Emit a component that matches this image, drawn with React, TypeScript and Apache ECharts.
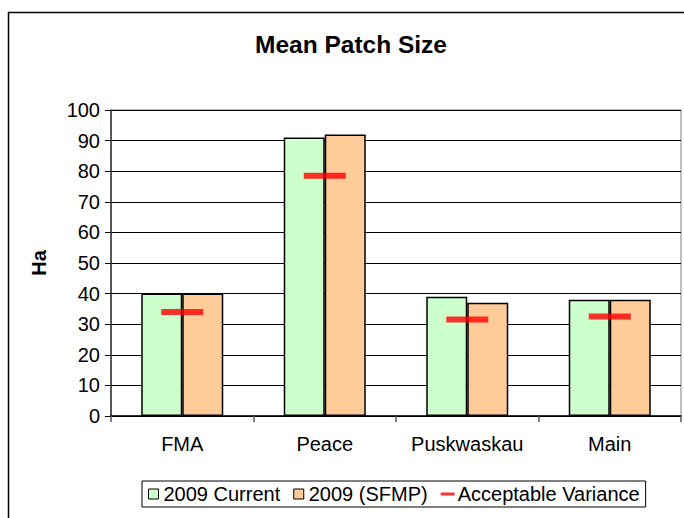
import React, { useEffect, useRef } from "react";
import * as echarts from "echarts";

const categories = ["FMA", "Peace", "Puskwaskau", "Main"];
const current2009 = [40, 91, 39, 38];
const sfmp2009 = [40, 92, 37, 38];
const acceptableVariance = [34, 78.5, 31.5, 32.5];
const seriesNames = ["2009 Current", "2009 (SFMP)", "Acceptable Variance"];

const FONT = "'Liberation Sans', Arial, Helvetica, sans-serif";

export default function App() {
  const ref = useRef<HTMLDivElement>(null);
  useEffect(() => {
    if (!ref.current) return;
    const chart = echarts.init(ref.current, undefined, { renderer: "svg" });
    chart.setOption({
      animation: false,
      backgroundColor: "#ffffff",
      textStyle: { fontFamily: FONT },
      title: {
        text: "Mean Patch Size",
        left: 255,
        top: 32,
        padding: 0,
        textStyle: { fontSize: 24.5, fontWeight: "bold", color: "#000", fontFamily: FONT },
      },
      graphic: [
        {
          type: "rect",
          shape: { x: 8.5, y: 12.5, width: 720, height: 600 },
          style: { fill: "none", stroke: "#000", lineWidth: 1.5 },
          silent: true,
          z: 0,
        },
      ],
      legend: {
        left: 142,
        top: 481,
        padding: [3, 6, 3, 6],
        itemGap: 13,
        itemWidth: 14,
        itemHeight: 10,
        itemStyle: { borderWidth: 1, borderColor: "#000" },
        borderColor: "#000",
        borderWidth: 1,
        textStyle: { fontSize: 20, color: "#000", fontFamily: FONT, padding: [0, 0, 0, -2] },
        data: [
          { name: seriesNames[0], icon: "path://M0,0H10V10H0Z" },
          { name: seriesNames[1], icon: "path://M0,0H10V10H0Z" },
          { name: seriesNames[2], icon: "path://M0,0H14V3H0Z", itemStyle: { borderWidth: 0 } },
        ],
      },
      grid: {
        left: 111,
        right: 3,
        top: 110,
        bottom: 102,
        show: true,
        borderColor: "#808080",
        borderWidth: 1,
        containLabel: false,
        outerBoundsMode: "none",
      },
      xAxis: {
        type: "category",
        data: categories,
        axisLine: { show: true, lineStyle: { color: "#000", width: 1.5 } },
        axisTick: { show: true, alignWithLabel: false, length: 6, lineStyle: { color: "#555", width: 1.5 } },
        axisLabel: { interval: 0, fontSize: 20, color: "#000", margin: 18, fontFamily: FONT },
        splitLine: { show: false },
      },
      yAxis: {
        type: "value",
        min: 0,
        max: 100,
        interval: 10,
        name: "Ha",
        nameLocation: "middle",
        nameGap: 62,
        nameTextStyle: { fontSize: 20, fontWeight: "bold", color: "#000", fontFamily: FONT },
        axisLine: { show: true, lineStyle: { color: "#333", width: 1.5 } },
        axisTick: { show: true, inside: false, length: 6, lineStyle: { color: "#000" } },
        axisLabel: { fontSize: 20, color: "#000", margin: 11, fontFamily: FONT },
        splitLine: { show: true, lineStyle: { color: "#000", width: 1 } },
      },
      series: [
        {
          name: seriesNames[0],
          type: "bar",
          data: current2009,
          barWidth: 41,
          barGap: "0%",
          itemStyle: { color: "#CCFFCC", borderColor: "#000", borderWidth: 1.5 },
        },
        {
          name: seriesNames[1],
          type: "bar",
          data: sfmp2009,
          barWidth: 41,
          barGap: "0%",
          itemStyle: { color: "#FFCC99", borderColor: "#000", borderWidth: 1.5 },
        },
        {
          name: seriesNames[2],
          type: "scatter",
          data: acceptableVariance,
          symbol: "rect",
          symbolSize: [42, 6],
          itemStyle: { color: "#FF0000" },
          z: 5,
        },
      ],
    });
    return () => chart.dispose();
  }, []);
  return (
    <div
      ref={ref}
      style={{ position: "fixed", left: 0, top: 0, width: 684, height: 518 }}
    />
  );
}
